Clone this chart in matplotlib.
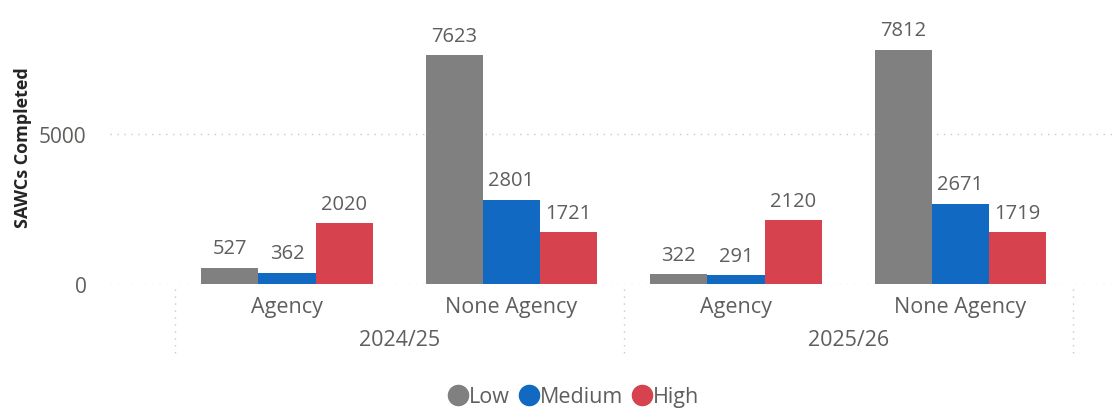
import numpy as np
import matplotlib
matplotlib.use("Agg")
import matplotlib.pyplot as plt
from matplotlib.lines import Line2D

plt.rcParams['font.family'] = ['Open Sans', 'DejaVu Sans']

# data
years = ['2024/25', '2025/26']
types = ['Agency', 'None Agency']
series = ['Low', 'Medium', 'High']
low = [527, 7623, 322, 7812]
medium = [362, 2801, 291, 2671]
high = [2020, 1721, 2120, 1719]
colors = ['#808080', '#1169C2', '#D6434F']

W, H = 1117, 410
fig = plt.figure(figsize=(W / 100, H / 100), dpi=100)
# axes placed in pixel terms
left, right, bottom, top = 110, 1117, 285, 10
ax = fig.add_axes([left / W, 1 - bottom / H, (right - left) / W, (bottom - top) / H])

x = np.arange(len(low))
bw = 0.255
txt = '#605E5C'
for k, (vals, c) in enumerate(zip([low, medium, high], colors)):
    pos = x + (k - 1) * bw
    ax.bar(pos, vals, width=bw, color=c, zorder=3)
    for p, v in zip(pos, vals):
        ax.annotate(str(v), (p, v), xytext=(0, 7), textcoords='offset points',
                    ha='center', va='bottom', fontsize=14.5, color=txt)

ax.set_xlim(-0.788, 3.697)
ax.set_ylim(0, 275 / 30 * 1000)
ax.set_yticks([0, 5000])
ax.set_yticklabels(['0', '5000'], fontsize=15, color=txt)
ax.tick_params(axis='y', length=0, pad=17)
ax.set_xticks([])
for s in ax.spines.values():
    s.set_visible(False)
for yv in [0, 5000]:
    ax.axhline(yv, color='#C8C8C8', lw=1, ls=(0, (1, 4)), zorder=1)
ax.set_ylabel('SAWCs Completed', fontsize=13, fontweight='bold', color='#252423', labelpad=5)

# hierarchical x labels
trans = ax.get_xaxis_transform()
labels = [t for _ in years for t in types]
for i, lab in enumerate(labels):
    ax.text(x[i], -23 / 275, lab, transform=trans, ha='center', va='center',
            fontsize=15.5, color=txt, clip_on=False)
for j, yr in enumerate(years):
    ax.text(j * 2 + 0.5, -56 / 275, yr, transform=trans, ha='center', va='center',
            fontsize=15.5, color=txt, clip_on=False)
for sep in [-0.5, 1.5, 3.5]:
    ax.plot([sep, sep], [-5 / 275, -74 / 275], transform=trans, color='#C8C8C8',
            lw=1, ls=(0, (1, 4)), clip_on=False)

handles = [Line2D([], [], marker='o', ls='', markersize=14.5, color=c) for c in colors]
fig.legend(handles, series, loc='center', bbox_to_anchor=(573 / W, 1 - 398 / H), ncol=3,
           frameon=False, fontsize=15.5, labelcolor=txt, handletextpad=0.0,
           columnspacing=0.4, handlelength=1.0)

fig.savefig('out.png', dpi=100)
